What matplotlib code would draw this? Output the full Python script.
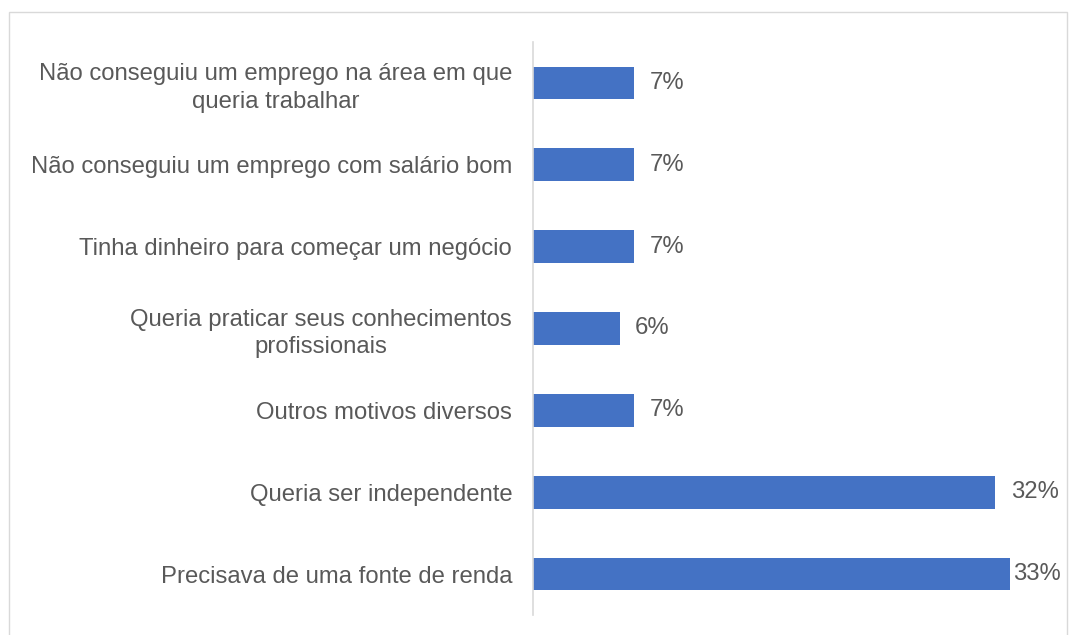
import matplotlib
matplotlib.use("Agg")
import matplotlib.pyplot as plt
from matplotlib.patches import Rectangle

# categories from top to bottom, values in percent
motivos = [
    "Não conseguiu um emprego na área em que\nqueria trabalhar",
    "Não conseguiu um emprego com salário bom",
    "Tinha dinheiro para começar um negócio",
    "Queria praticar seus conhecimentos\nprofissionais",
    "Outros motivos diversos",
    "Queria ser independente",
    "Precisava de uma fonte de renda",
]
valores = [7, 7, 7, 6, 7, 32, 33]
rotulos = ["7%", "7%", "7%", "6%", "7%", "32%", "33%"]

plt.rcParams['font.family'] = ['Liberation Sans', 'DejaVu Sans']
text_color = '#595959'
bar_color = '#4472C4'
grid_color = '#D9D9D9'
fsize = 17.2

fig = plt.figure(figsize=(10.69, 6.35), dpi=100)
# chart area frame like in Excel
fig.patches.append(Rectangle((9 / 1069, -0.01), 1058 / 1069, 1 - 12 / 635 + 0.01,
                             transform=fig.transFigure, fill=False,
                             edgecolor=grid_color, linewidth=1))

ax = fig.add_axes([533 / 1069, 20 / 635, (1045 - 533) / 1069, (593 - 20) / 635])
pos = list(range(len(motivos)))
ax.barh(pos, valores, height=0.40, color=bar_color)
ax.set_ylim(len(motivos) - 0.5, -0.5)
ax.set_xlim(0, 512 / 14.45)

ax.set_yticks(pos)
ax.set_yticklabels(motivos, fontsize=fsize, color=text_color,
                   multialignment='center', linespacing=1.32)
ax.tick_params(axis='y', length=0, pad=15)
ax.set_xticks([])

for s in ['top', 'right', 'bottom']:
    ax.spines[s].set_visible(False)
ax.spines['left'].set_color(grid_color)
ax.spines['left'].set_linewidth(1.2)

vmax = max(valores)
for i, (v, r) in enumerate(zip(valores, rotulos)):
    off = 2 if v == vmax else 11
    ax.annotate(r, (v, i), xytext=(off, 0), textcoords='offset points',
                va='center', ha='left', fontsize=fsize, color=text_color)

fig.savefig('out.png', dpi=100)
